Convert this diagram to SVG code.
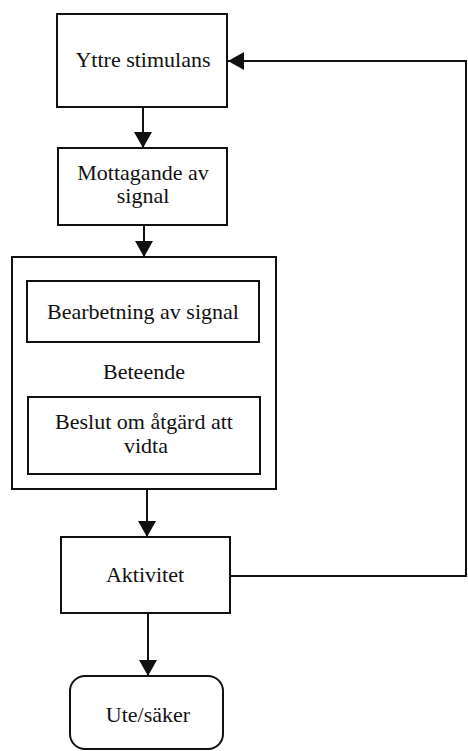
<svg xmlns="http://www.w3.org/2000/svg" width="468" height="751" viewBox="0 0 468 751">
<style>
.box{fill:#fff;stroke:#111;stroke-width:2}
.ln{fill:none;stroke:#111;stroke-width:2}
.t{font-family:'Liberation Serif','Times New Roman',serif;font-size:22px;fill:#111;text-anchor:middle}
</style>
<defs>
<marker id="ah" viewBox="0 0 16 18" refX="16" refY="9" markerWidth="16" markerHeight="18" markerUnits="userSpaceOnUse" orient="auto">
<path d="M0,0 L16,9 L0,18 Z" fill="#111"/>
</marker>
</defs>
<g id="connectors">
<line class="ln" x1="143" y1="107" x2="143" y2="148" marker-end="url(#ah)"/>
<line class="ln" x1="144" y1="225" x2="144" y2="257" marker-end="url(#ah)"/>
<line class="ln" x1="147" y1="489" x2="147" y2="537" marker-end="url(#ah)"/>
<line class="ln" x1="148" y1="613" x2="148" y2="676" marker-end="url(#ah)"/>
<polyline class="ln" points="230,576 466,576 466,61 228,61" marker-end="url(#ah)"/>
</g>
<g id="yttre">
<rect class="box" x="57" y="14" width="170" height="93"/>
<text class="t" x="143" y="67">Yttre stimulans</text>
</g>
<g id="mottagande">
<rect class="box" x="58" y="148" width="169" height="77"/>
<text class="t" x="143" y="180">Mottagande av</text>
<text class="t" x="143" y="203">signal</text>
</g>
<g id="beteende">
<rect class="box" x="12" y="257" width="264" height="232"/>
<text class="t" x="144" y="379">Beteende</text>
</g>
<g id="bearbetning">
<rect class="box" x="27" y="281" width="232" height="61"/>
<text class="t" x="143" y="319">Bearbetning av signal</text>
</g>
<g id="beslut">
<rect class="box" x="28" y="397" width="232" height="77"/>
<text class="t" x="144" y="429">Beslut om åtgärd att</text>
<text class="t" x="146" y="453">vidta</text>
</g>
<g id="aktivitet">
<rect class="box" x="61" y="537" width="169" height="76"/>
<text class="t" x="145" y="582">Aktivitet</text>
</g>
<g id="ute">
<rect class="box" x="70" y="676" width="153" height="73" rx="15" ry="15"/>
<text class="t" x="148" y="722">Ute/säker</text>
</g>
</svg>
